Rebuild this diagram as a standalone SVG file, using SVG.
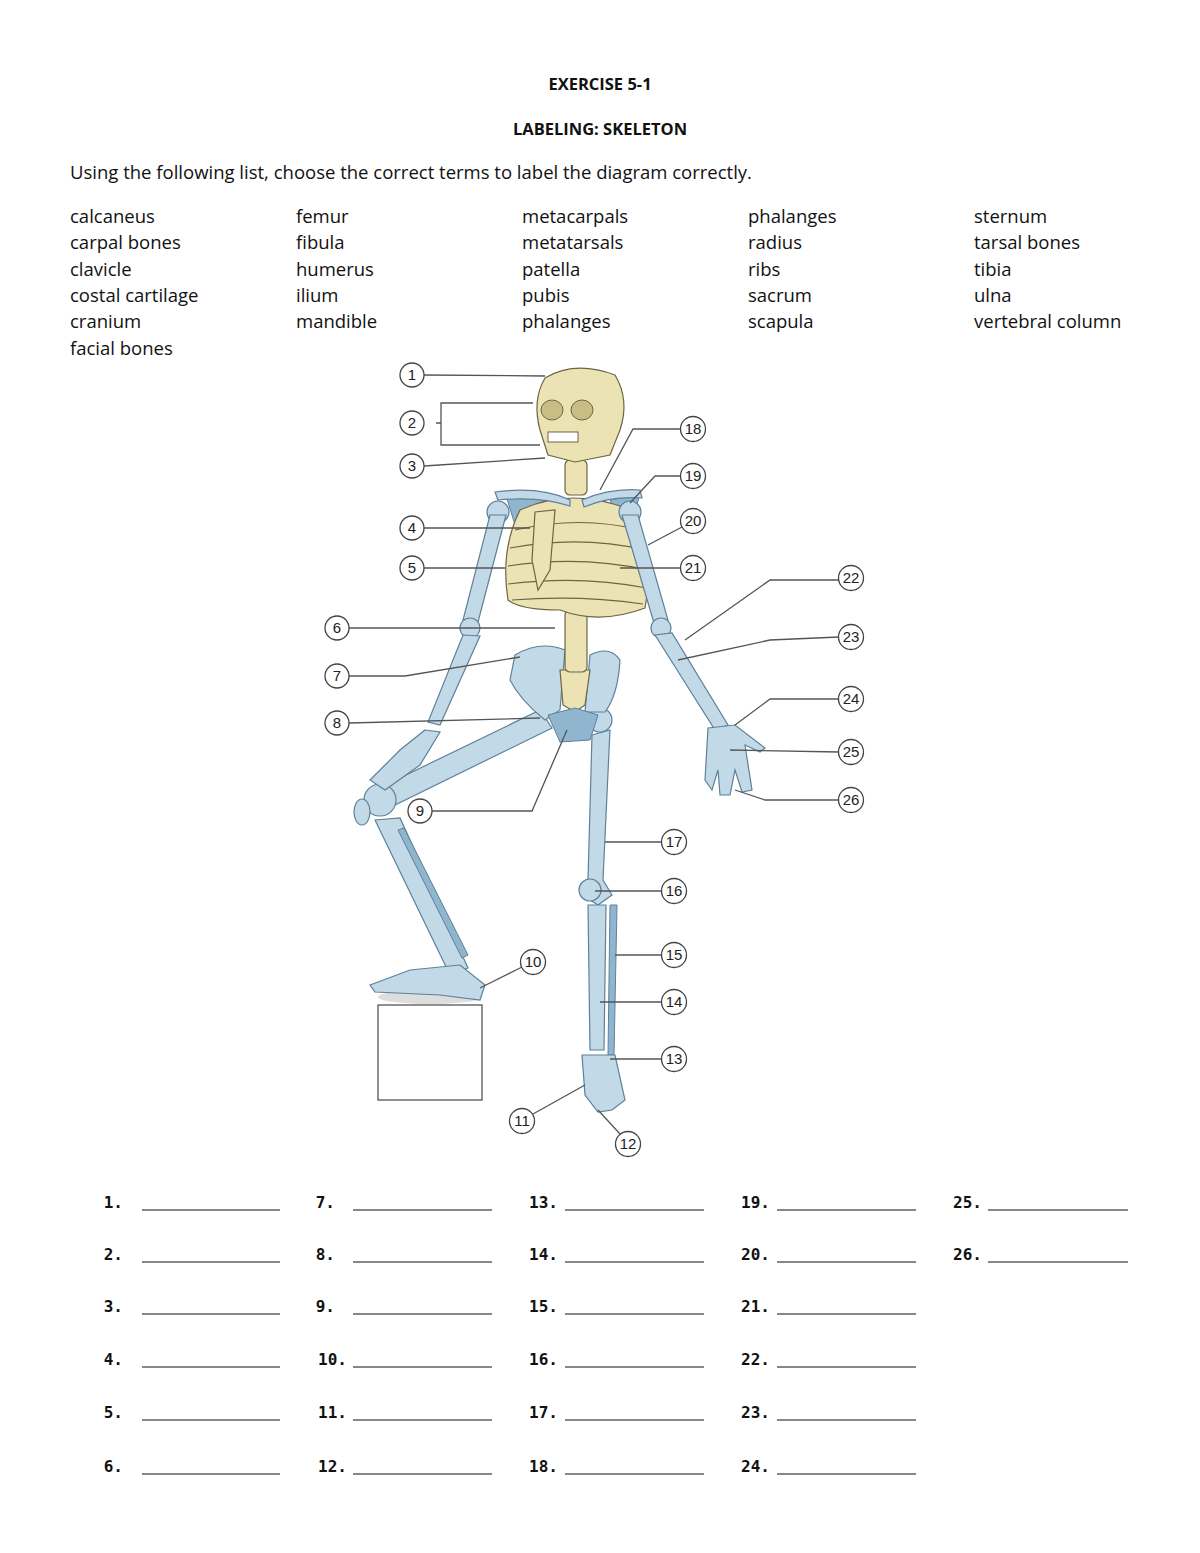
<svg xmlns="http://www.w3.org/2000/svg" width="1200" height="1553" viewBox="0 0 1200 1553">
<style>
.t{font-family:"Open Sans","Liberation Sans",sans-serif;font-size:18.5px;fill:#111}
.h{font-family:"Open Sans","Liberation Sans",sans-serif;font-size:16.5px;font-weight:bold;fill:#111;text-anchor:middle}
.n{font-family:"DejaVu Sans Mono",monospace;font-size:16px;font-weight:bold;fill:#111;text-anchor:end}
.a{stroke:#111;stroke-width:1.2}
.ax{fill:#ece3b4;stroke:#6e6443;stroke-width:1.2}
.ap{fill:#c2d9e8;stroke:#5f8099;stroke-width:1.2}
.dk{fill:#8fb5cf;stroke:#5f8099;stroke-width:1}
.c circle{fill:#fff;stroke:#444;stroke-width:1.3}
.c text{font-family:"Liberation Sans",sans-serif;font-size:15px;fill:#222;text-anchor:middle}
.ln{fill:none;stroke:#555;stroke-width:1.3}
</style>
<text class="h" x="600" y="90">EXERCISE 5-1</text>
<text class="h" x="600" y="135">LABELING: SKELETON</text>
<text class="t" x="70" y="179">Using the following list, choose the correct terms to label the diagram correctly.</text>
<g class="t">
<text x="70" y="223">calcaneus</text><text x="70" y="249">carpal bones</text><text x="70" y="276">clavicle</text><text x="70" y="302">costal cartilage</text><text x="70" y="328">cranium</text><text x="70" y="355">facial bones</text>
<text x="296" y="223">femur</text><text x="296" y="249">fibula</text><text x="296" y="276">humerus</text><text x="296" y="302">ilium</text><text x="296" y="328">mandible</text>
<text x="522" y="223">metacarpals</text><text x="522" y="249">metatarsals</text><text x="522" y="276">patella</text><text x="522" y="302">pubis</text><text x="522" y="328">phalanges</text>
<text x="748" y="223">phalanges</text><text x="748" y="249">radius</text><text x="748" y="276">ribs</text><text x="748" y="302">sacrum</text><text x="748" y="328">scapula</text>
<text x="974" y="223">sternum</text><text x="974" y="249">tarsal bones</text><text x="974" y="276">tibia</text><text x="974" y="302">ulna</text><text x="974" y="328">vertebral column</text>
</g>
<g id="skeleton">
<rect x="378" y="1005" width="104" height="95" fill="#fff" stroke="#555" stroke-width="1.3"/>
<ellipse cx="430" cy="997" rx="52" ry="7" fill="#ddd"/>
<path class="ap" d="M592 735 L610 730 L603 880 L612 895 L598 905 L582 895 L588 880 Z"/>
<circle class="ap" cx="600" cy="720" r="12"/>
<circle class="ap" cx="590" cy="890" r="11"/>
<path class="ap" d="M588 905 L606 905 L604 1050 L590 1050 Z"/>
<path class="dk" d="M610 905 L617 905 L614 1055 L608 1055 Z"/>
<path class="ap" d="M582 1055 L615 1055 L625 1100 L612 1110 L598 1112 L585 1095 Z"/>
<path class="ap" d="M540 710 L552 728 L395 805 L375 790 Z"/>
<circle class="ap" cx="380" cy="800" r="16"/>
<ellipse class="ap" cx="362" cy="812" rx="8" ry="13"/>
<path class="ap" d="M375 820 L400 818 L468 968 L450 975 Z"/>
<path class="dk" d="M398 830 L404 828 L468 955 L462 958 Z"/>
<path class="ap" d="M370 985 L410 970 L460 965 L485 985 L480 1000 L440 995 L375 992 Z"/>
<path class="ap" d="M515 655 Q540 640 565 650 L560 710 L545 720 Q520 700 510 680 Z"/>
<path class="ap" d="M590 655 Q610 645 620 660 Q618 695 605 712 L585 712 Z"/>
<path class="ax" d="M560 670 L590 670 L585 705 L575 712 L563 705 Z"/>
<path class="dk" d="M548 715 L575 708 L598 715 L590 740 L560 742 Z"/>
<rect class="ax" x="565" y="460" width="22" height="35" rx="5"/>
<rect class="ax" x="565" y="610" width="22" height="62" rx="5"/>
<path class="dk" d="M505 492 L545 500 L530 545 L515 525 Z"/>
<path class="dk" d="M640 495 L610 500 L625 540 Z"/>
<path class="ax" d="M520 510 Q575 485 635 512 Q655 560 645 608 Q600 625 560 610 Q520 610 508 600 Q500 550 520 510 Z"/>
<g fill="none" stroke="#6e6443" stroke-width="1.2">
<path d="M515 530 Q580 515 640 530"/><path d="M510 548 Q580 535 645 550"/><path d="M508 566 Q580 555 648 570"/><path d="M508 584 Q580 575 647 588"/><path d="M512 600 Q580 595 643 604"/>
</g>
<path class="ax" d="M535 512 L555 510 L550 570 L538 590 L532 560 Z"/>
<path class="ap" d="M495 492 Q540 486 570 500 L570 506 Q540 496 498 500 Z"/>
<path class="ap" d="M582 500 Q610 488 640 490 L642 498 Q610 496 584 507 Z"/>
<circle class="ap" cx="498" cy="512" r="11"/>
<path class="ap" d="M490 515 L506 515 L478 622 L463 620 Z"/>
<circle class="ap" cx="470" cy="628" r="10"/>
<path class="ap" d="M463 635 L480 636 L440 725 L428 722 Z"/>
<path class="ap" d="M425 730 L440 732 L420 765 L385 790 L370 780 L400 750 Z"/>
<circle class="ap" cx="630" cy="512" r="11"/>
<path class="ap" d="M622 515 L638 515 L668 620 L654 623 Z"/>
<circle class="ap" cx="661" cy="628" r="10"/>
<path class="ap" d="M655 635 L672 633 L728 725 L715 730 Z"/>
<path class="ap" d="M708 728 L735 725 L765 748 L760 752 L745 745 L752 790 L742 792 L735 770 L730 795 L720 795 L718 770 L712 790 L705 780 Z"/>
<path class="ax" d="M545 378 Q575 360 615 375 Q630 400 620 430 L610 455 L575 462 L548 455 L540 430 Q532 400 545 378 Z"/>
<ellipse cx="552" cy="410" rx="11" ry="10" fill="#c9bd86" stroke="#6e6443"/>
<ellipse cx="582" cy="410" rx="11" ry="10" fill="#c9bd86" stroke="#6e6443"/>
<rect x="548" y="432" width="30" height="10" fill="#fff" stroke="#6e6443"/>
</g>
<g id="connectors" class="ln">
<path d="M424 375 L545 376"/>
<path d="M533 403 L441 403 L441 445 L540 445 M436 423 L441 423"/>
<path d="M424 466 L545 458"/>
<path d="M424 528 L530 528"/>
<path d="M424 568 L505 568"/>
<path d="M349 628 L555 628"/>
<path d="M349 676 L405 676 L520 657"/>
<path d="M349 723 L540 718"/>
<path d="M432 811 L532 811 L567 730"/>
<path d="M522 967 L480 988"/>
<path d="M533 1114 L585 1085"/>
<path d="M620 1134 L598 1110"/>
<path d="M662 1059 L610 1059"/>
<path d="M662 1002 L600 1002"/>
<path d="M662 955 L615 955"/>
<path d="M662 891 L595 891"/>
<path d="M662 842 L605 842"/>
<path d="M681 429 L633 429 L600 490"/>
<path d="M681 476 L655 476 L630 503"/>
<path d="M682 527 L648 545"/>
<path d="M681 568 L620 568"/>
<path d="M839 580 L770 580 L685 640"/>
<path d="M839 637 L770 640 L678 660"/>
<path d="M839 699 L770 699 L735 725"/>
<path d="M839 752 L730 750"/>
<path d="M839 800 L765 800 L735 790"/>
</g>
<g class="c">
<g id="n1"><circle cx="412" cy="375" r="12"/><text x="412" y="380">1</text></g>
<g id="n2"><circle cx="412" cy="423" r="12"/><text x="412" y="428">2</text></g>
<g id="n3"><circle cx="412" cy="466" r="12"/><text x="412" y="471">3</text></g>
<g id="n4"><circle cx="412" cy="528" r="12"/><text x="412" y="533">4</text></g>
<g id="n5"><circle cx="412" cy="568" r="12"/><text x="412" y="573">5</text></g>
<g id="n6"><circle cx="337" cy="628" r="12"/><text x="337" y="633">6</text></g>
<g id="n7"><circle cx="337" cy="676" r="12"/><text x="337" y="681">7</text></g>
<g id="n8"><circle cx="337" cy="723" r="12"/><text x="337" y="728">8</text></g>
<g id="n9"><circle cx="420" cy="811" r="12"/><text x="420" y="816">9</text></g>
<g id="n10"><circle cx="533" cy="962" r="12.5"/><text x="533" y="967">10</text></g>
<g id="n11"><circle cx="522" cy="1121" r="12.5"/><text x="522" y="1126">11</text></g>
<g id="n12"><circle cx="628" cy="1144" r="12.5"/><text x="628" y="1149">12</text></g>
<g id="n13"><circle cx="674" cy="1059" r="12.5"/><text x="674" y="1064">13</text></g>
<g id="n14"><circle cx="674" cy="1002" r="12.5"/><text x="674" y="1007">14</text></g>
<g id="n15"><circle cx="674" cy="955" r="12.5"/><text x="674" y="960">15</text></g>
<g id="n16"><circle cx="674" cy="891" r="12.5"/><text x="674" y="896">16</text></g>
<g id="n17"><circle cx="674" cy="842" r="12.5"/><text x="674" y="847">17</text></g>
<g id="n18"><circle cx="693" cy="429" r="12.5"/><text x="693" y="434">18</text></g>
<g id="n19"><circle cx="693" cy="476" r="12.5"/><text x="693" y="481">19</text></g>
<g id="n20"><circle cx="693" cy="521" r="12.5"/><text x="693" y="526">20</text></g>
<g id="n21"><circle cx="693" cy="568" r="12.5"/><text x="693" y="573">21</text></g>
<g id="n22"><circle cx="851" cy="578" r="12.5"/><text x="851" y="583">22</text></g>
<g id="n23"><circle cx="851" cy="637" r="12.5"/><text x="851" y="642">23</text></g>
<g id="n24"><circle cx="851" cy="699" r="12.5"/><text x="851" y="704">24</text></g>
<g id="n25"><circle cx="851" cy="752" r="12.5"/><text x="851" y="757">25</text></g>
<g id="n26"><circle cx="851" cy="800" r="12.5"/><text x="851" y="805">26</text></g>
</g>
<g id="answers">
<g class="n">
<text x="123" y="1208">1.</text><text x="123" y="1260">2.</text><text x="123" y="1312">3.</text><text x="123" y="1365">4.</text><text x="123" y="1418">5.</text><text x="123" y="1472">6.</text>
<text x="335" y="1208">7.</text><text x="335" y="1260">8.</text><text x="335" y="1312">9.</text><text x="347" y="1365">10.</text><text x="347" y="1418">11.</text><text x="347" y="1472">12.</text>
<text x="558" y="1208">13.</text><text x="558" y="1260">14.</text><text x="558" y="1312">15.</text><text x="558" y="1365">16.</text><text x="558" y="1418">17.</text><text x="558" y="1472">18.</text>
<text x="770" y="1208">19.</text><text x="770" y="1260">20.</text><text x="770" y="1312">21.</text><text x="770" y="1365">22.</text><text x="770" y="1418">23.</text><text x="770" y="1472">24.</text>
<text x="982" y="1208">25.</text><text x="982" y="1260">26.</text>
</g>
<g class="a">
<path d="M142 1210H280M142 1262H280M142 1314H280M142 1367H280M142 1420H280M142 1474H280"/>
<path d="M353 1210H492M353 1262H492M353 1314H492M353 1367H492M353 1420H492M353 1474H492"/>
<path d="M565 1210H704M565 1262H704M565 1314H704M565 1367H704M565 1420H704M565 1474H704"/>
<path d="M777 1210H916M777 1262H916M777 1314H916M777 1367H916M777 1420H916M777 1474H916"/>
<path d="M988 1210H1128M988 1262H1128"/>
</g>
</g>
</svg>
